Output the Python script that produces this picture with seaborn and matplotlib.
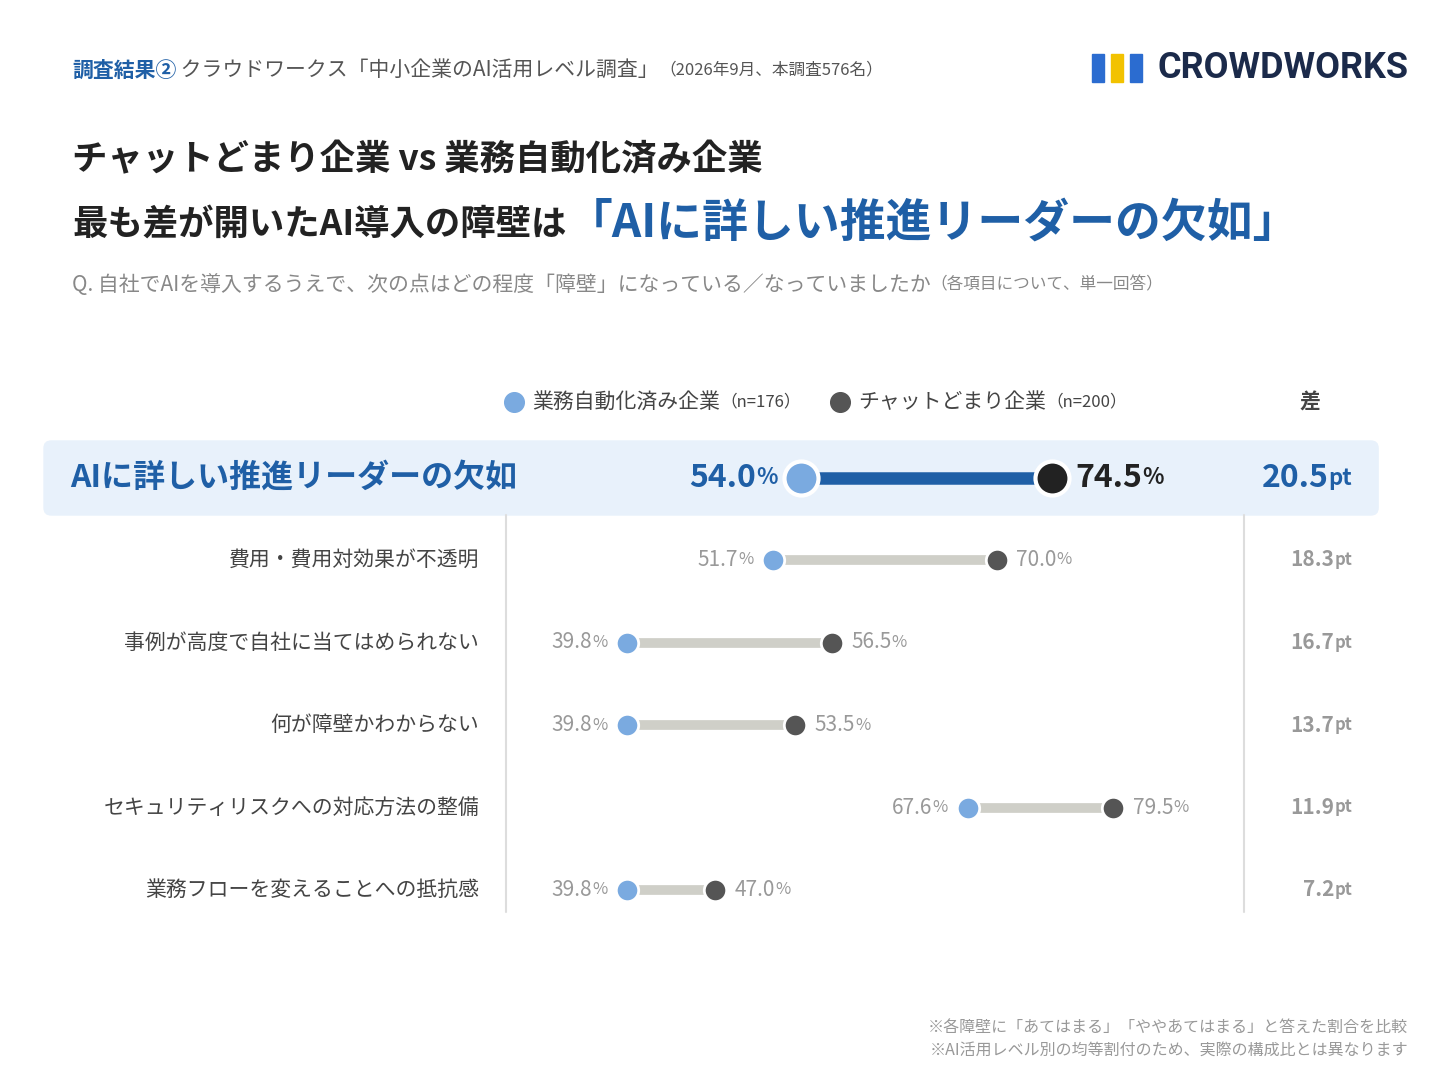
import matplotlib
matplotlib.use("Agg")
import matplotlib.pyplot as plt
import seaborn as sns
import pandas as pd
from matplotlib.patches import FancyBboxPatch, Rectangle

sns.set_theme(style="white")
plt.rcParams['font.family'] = ['Noto Sans CJK JP', 'DejaVu Sans']

# data
items = ["AIに詳しい推進リーダーの欠如", "費用・費用対効果が不透明", "事例が高度で自社に当てはめられない",
         "何が障壁かわからない", "セキュリティリスクへの対応方法の整備", "業務フローを変えることへの抵抗感"]
automated = [54.0, 51.7, 39.8, 39.8, 67.6, 39.8]
chat_only = [74.5, 70.0, 56.5, 53.5, 79.5, 47.0]
diff = [20.5, 18.3, 16.7, 13.7, 11.9, 7.2]

BLUE = "#1f5fa6"
LBLUE = "#7aaae0"
DARK = "#555555"
NAVY = "#1b2a4a"

fig = plt.figure(figsize=(14.4, 10.8), dpi=100)
ax = fig.add_axes([0, 0, 1, 1])
ax.set_xlim(-11.44, 106.2)
ax.set_ylim(1080, 0)
ax.axis("off")
px = 12.24  # pixels per percentage point
renderer = fig.canvas.get_renderer()


def xp(p):
    return (p - 140) / px


def seq(x, y, parts, align="left"):
    # draw text pieces one after another, measuring each
    texts = []
    for s, kw in parts:
        t = ax.text(x, y, s, va="center", **kw)
        texts.append(t)
        bb = t.get_window_extent(renderer)
        x += bb.width / px
    if align == "right":
        shift = x - texts[0].get_position()[0]
        for t in texts:
            t.set_x(t.get_position()[0] - shift)
    return texts


# header
seq(xp(72), 70, [("調査結果②", dict(color=BLUE, fontsize=15, fontweight="bold")),
                 (" クラウドワークス「中小企業のAI活用レベル調査」", dict(color="#555", fontsize=15)),
                 ("（2026年9月、本調査576名）", dict(color="#555", fontsize=12))])
ax.text(xp(1408), 68, "CROWDWORKS", color=NAVY, fontsize=26, fontweight="bold", va="center", ha="right",
        family=["Roboto", "DejaVu Sans"])
for i, c in enumerate(["#2b6cd0", "#f2c200", "#2b6cd0"]):
    ax.add_patch(Rectangle((xp(1092 + i * 19), 54), 12 / px, 28, color=c, zorder=3))

ax.text(xp(72), 160, "チャットどまり企業 vs 業務自動化済み企業", fontsize=25.5, fontweight="bold", color="#222", va="center")
seq(xp(72), 224, [("最も差が開いたAI導入の障壁は", dict(fontsize=25.5, fontweight="bold", color="#222")),
                  ("「AIに詳しい推進リーダーの欠如」", dict(fontsize=33, fontweight="bold", color=BLUE))])
seq(xp(72), 285, [("Q. 自社でAIを導入するうえで、次の点はどの程度「障壁」になっている／なっていましたか",
                   dict(fontsize=15, color="#888")),
                  ("（各項目について、単一回答）", dict(fontsize=12, color="#888"))])

# legend
ax.scatter([xp(514)], [402], s=200, color=LBLUE, zorder=3)
seq(xp(532), 402, [("業務自動化済み企業", dict(fontsize=15, color="#444")),
                   ("（n=176）", dict(fontsize=12, color="#444"))])
ax.scatter([xp(840)], [402], s=200, color=DARK, zorder=3)
seq(xp(858), 402, [("チャットどまり企業", dict(fontsize=15, color="#444")),
                   ("（n=200）", dict(fontsize=12, color="#444"))])
ax.text(xp(1310), 402, "差", fontsize=15, fontweight="bold", color="#444", va="center", ha="center")

# highlight band
ax.add_patch(FancyBboxPatch((xp(44), 441), (1378 - 44) / px, 74, boxstyle="round,pad=0,rounding_size=0.6",
                            color="#e8f1fb", zorder=0, mutation_aspect=12))
ax.plot([xp(506), xp(506)], [515, 912], color="#dddddd", lw=1.5)
ax.plot([xp(1244), xp(1244)], [515, 912], color="#dddddd", lw=1.5)

df = pd.DataFrame({"item": items, "a": automated, "c": chat_only,
                   "y": [478] + [560 + 82.5 * i for i in range(5)]})

for i, r in df.iterrows():
    top = i == 0
    ax.plot([r.a, r.c], [r.y, r.y], color=BLUE if top else "#cfcfc8", lw=9 if top else 7, zorder=1,
            solid_capstyle="butt")
sns.scatterplot(data=df.iloc[1:], x="a", y="y", ax=ax, s=260, color=LBLUE, edgecolor="white", linewidth=2, zorder=3)
sns.scatterplot(data=df.iloc[1:], x="c", y="y", ax=ax, s=260, color=DARK, edgecolor="white", linewidth=2, zorder=3)
sns.scatterplot(data=df.iloc[:1], x="a", y="y", ax=ax, s=600, color=LBLUE, edgecolor="white", linewidth=3, zorder=3)
sns.scatterplot(data=df.iloc[:1], x="c", y="y", ax=ax, s=600, color="#222222", edgecolor="white", linewidth=3, zorder=3)
ax.set_xlabel("")
ax.set_ylabel("")

for i, r in df.iterrows():
    if i == 0:
        ax.text(xp(70), r.y, r["item"], fontsize=23, fontweight="bold", color=BLUE, va="center")
        seq(r.a - 1.9, r.y, [(f"{r.a:.1f}", dict(fontsize=23, fontweight="bold", color=BLUE)),
                             ("%", dict(fontsize=16, fontweight="bold", color=BLUE))], align="right")
        seq(r.c + 1.9, r.y, [(f"{r.c:.1f}", dict(fontsize=23, fontweight="bold", color="#222")),
                             ("%", dict(fontsize=16, fontweight="bold", color="#222"))])
        seq(xp(1352), r.y, [(f"{diff[i]:.1f}", dict(fontsize=23, fontweight="bold", color=BLUE)),
                            ("pt", dict(fontsize=16, fontweight="bold", color=BLUE))], align="right")
    else:
        ax.text(xp(479), r.y, r["item"], fontsize=15, color="#444", va="center", ha="right")
        seq(r.a - 1.6, r.y, [(f"{r.a:.1f}", dict(fontsize=15, color="#999")),
                             ("%", dict(fontsize=12, color="#999"))], align="right")
        seq(r.c + 1.6, r.y, [(f"{r.c:.1f}", dict(fontsize=15, color="#999")),
                             ("%", dict(fontsize=12, color="#999"))])
        seq(xp(1352), r.y, [(f"{diff[i]:.1f}", dict(fontsize=15, fontweight="bold", color="#999")),
                            ("pt", dict(fontsize=12, fontweight="bold", color="#999"))], align="right")

ax.text(xp(1408), 1027, "※各障壁に「あてはまる」「ややあてはまる」と答えた割合を比較", fontsize=11.5, color="#999",
        va="center", ha="right")
ax.text(xp(1408), 1050, "※AI活用レベル別の均等割付のため、実際の構成比とは異なります", fontsize=11.5, color="#999",
        va="center", ha="right")

fig.savefig("out.png", dpi=100, facecolor="white")
